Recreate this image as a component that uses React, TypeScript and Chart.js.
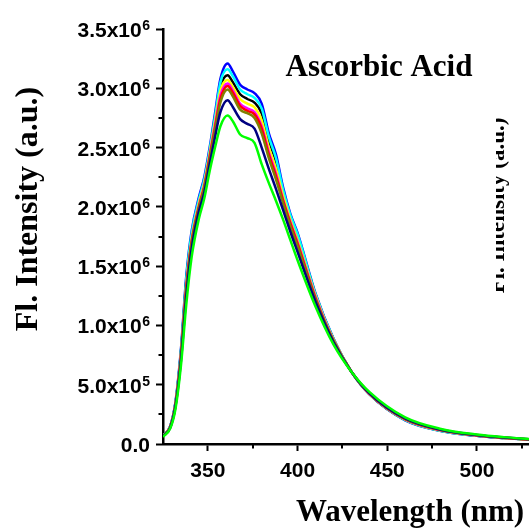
import React, { useEffect, useRef } from "react";
import { Chart, registerables } from "chart.js";

Chart.register(...registerables);

// Wavelength (nm)
const wavelengths = [325, 329, 332, 335, 338, 341, 345, 348, 351, 354, 357, 361, 364, 368, 372, 376, 380, 384, 388, 392, 396, 400, 410, 420, 430, 440, 460, 480, 500, 515, 530];

// Fluorescence intensity, in units of 10^6 a.u.
const blueSeries = [0.07, 0.15, 0.36, 0.8, 1.42, 1.8, 2.08, 2.25, 2.5, 2.79, 3.08, 3.21, 3.14, 3.03, 2.99, 2.96, 2.87, 2.62, 2.44, 2.16, 1.94, 1.78, 1.27, 0.89, 0.61, 0.42, 0.2, 0.11, 0.069, 0.05, 0.035];
const cyanSeries = [0.07, 0.148, 0.353, 0.785, 1.4, 1.78, 2.06, 2.23, 2.48, 2.76, 3.05, 3.16, 3.1, 2.99, 2.95, 2.92, 2.83, 2.59, 2.41, 2.14, 1.93, 1.77, 1.265, 0.887, 0.61, 0.42, 0.202, 0.11, 0.07, 0.05, 0.035];
const blackSeries = [0.069, 0.146, 0.35, 0.775, 1.38, 1.76, 2.04, 2.21, 2.46, 2.73, 3.01, 3.11, 3.05, 2.95, 2.91, 2.88, 2.79, 2.56, 2.38, 2.11, 1.91, 1.75, 1.26, 0.885, 0.61, 0.42, 0.203, 0.111, 0.07, 0.05, 0.035];
const yellowSeries = [0.068, 0.144, 0.34, 0.755, 1.34, 1.73, 2.03, 2.2, 2.45, 2.72, 2.98, 3.07, 3.01, 2.91, 2.87, 2.84, 2.73, 2.5, 2.32, 2.09, 1.89, 1.72, 1.25, 0.88, 0.61, 0.423, 0.206, 0.113, 0.071, 0.051, 0.036];
const magentaSeries = [0.067, 0.142, 0.337, 0.745, 1.33, 1.71, 2.01, 2.18, 2.43, 2.69, 2.94, 3.04, 2.98, 2.87, 2.83, 2.8, 2.68, 2.46, 2.28, 2.06, 1.87, 1.7, 1.24, 0.875, 0.61, 0.424, 0.208, 0.115, 0.072, 0.052, 0.037];
const redSeries = [0.067, 0.141, 0.334, 0.74, 1.32, 1.71, 2.0, 2.17, 2.42, 2.67, 2.91, 3.02, 2.96, 2.85, 2.81, 2.78, 2.66, 2.44, 2.26, 2.05, 1.86, 1.69, 1.23, 0.87, 0.61, 0.425, 0.21, 0.117, 0.073, 0.053, 0.038];
const oliveSeries = [0.066, 0.14, 0.33, 0.73, 1.3, 1.69, 1.99, 2.16, 2.4, 2.65, 2.88, 2.99, 2.93, 2.82, 2.79, 2.75, 2.62, 2.41, 2.23, 2.03, 1.84, 1.67, 1.22, 0.87, 0.61, 0.43, 0.212, 0.118, 0.074, 0.054, 0.038];
const navySeries = [0.065, 0.136, 0.32, 0.7, 1.25, 1.65, 1.96, 2.12, 2.36, 2.59, 2.8, 2.9, 2.84, 2.74, 2.7, 2.66, 2.5, 2.32, 2.15, 1.97, 1.79, 1.62, 1.2, 0.86, 0.61, 0.43, 0.215, 0.12, 0.076, 0.055, 0.04];
const greenSeries = [0.06, 0.13, 0.3, 0.66, 1.18, 1.58, 1.9, 2.07, 2.3, 2.5, 2.68, 2.77, 2.72, 2.61, 2.58, 2.54, 2.36, 2.2, 2.05, 1.89, 1.72, 1.55, 1.16, 0.84, 0.61, 0.44, 0.225, 0.127, 0.08, 0.058, 0.042];

// drawn top-most first
const seriesValues = [greenSeries, navySeries, oliveSeries, redSeries, magentaSeries, yellowSeries, cyanSeries, blackSeries, blueSeries];
const seriesColors = ["#00ff00", "#000080", "#808000", "#ff0000", "#ff00ff", "#ffff00", "#00ffff", "#000000", "#0000ff"];

const xTickValues = [350, 400, 450, 500];
const xTickLabels = ["350", "400", "450", "500"];
const xMinorTicks = [375, 425, 475, 525];
const yTickValues = [0, 0.5, 1.0, 1.5, 2.0, 2.5, 3.0, 3.5];
const yTickMantissa = ["0.0", "5.0x10", "1.0x10", "1.5x10", "2.0x10", "2.5x10", "3.0x10", "3.5x10"];
const yTickExponent = ["", "5", "6", "6", "6", "6", "6", "6"];
const yMinorTicks = [0.25, 0.75, 1.25, 1.75, 2.25, 2.75, 3.25];

const chartTitle = "Ascorbic Acid";
const xTitle = "Wavelength (nm)";
const yTitle = "Fl. Intensity (a.u.)";

const SANS = '"Liberation Sans", Arial, sans-serif';
const SERIF = '"Liberation Serif", "Times New Roman", serif';

const overlayPlugin = {
  id: "overlay",
  afterDraw(chart: any) {
    const ctx = chart.ctx as CanvasRenderingContext2D;
    const xs = chart.scales.x;
    const ys = chart.scales.y;
    const area = chart.chartArea;
    ctx.save();
    ctx.fillStyle = "#000";
    ctx.strokeStyle = "#000";
    ctx.lineWidth = 2;
    // minor ticks
    ctx.beginPath();
    xMinorTicks.forEach((v) => {
      const px = Math.round(xs.getPixelForValue(v));
      if (px <= area.right) {
        ctx.moveTo(px, area.bottom);
        ctx.lineTo(px, area.bottom + 4.5);
      }
    });
    yMinorTicks.forEach((v) => {
      const py = Math.round(ys.getPixelForValue(v));
      ctx.moveTo(area.left, py);
      ctx.lineTo(area.left - 4.5, py);
    });
    ctx.stroke();

    // x tick labels
    ctx.font = `bold 21px ${SANS}`;
    ctx.textAlign = "center";
    ctx.textBaseline = "alphabetic";
    xTickValues.forEach((v, i) => {
      ctx.fillText(xTickLabels[i], xs.getPixelForValue(v), 477);
    });

    // y tick labels with superscripts
    const rightEdge = 150;
    yTickValues.forEach((v, i) => {
      const py = ys.getPixelForValue(v);
      const exp = yTickExponent[i];
      ctx.textAlign = "right";
      ctx.textBaseline = "alphabetic";
      let mRight = rightEdge;
      if (exp) {
        ctx.font = `bold 14px ${SANS}`;
        const w = ctx.measureText(exp).width;
        ctx.fillText(exp, rightEdge, py + 1);
        mRight = rightEdge - w - 0.5;
      }
      ctx.font = `bold 21px ${SANS}`;
      ctx.fillText(yTickMantissa[i], mRight, py + 8);
    });

    // titles
    ctx.textAlign = "center";
    ctx.textBaseline = "alphabetic";
    ctx.font = `bold 31px ${SERIF}`;
    ctx.fillText(chartTitle, 379, 76);
    ctx.fillText(xTitle, 410, 521);

    ctx.save();
    ctx.font = `bold 32px ${SERIF}`;
    ctx.translate(37, 209);
    ctx.rotate(-Math.PI / 2);
    ctx.fillText(yTitle, 0, 0);
    ctx.restore();

    // partially hidden label of the neighbouring panel
    ctx.save();
    ctx.beginPath();
    ctx.rect(496, 0, 40, 531);
    ctx.clip();
    ctx.font = `bold 23px ${SERIF}`;
    ctx.translate(504, 205.5);
    ctx.rotate(-Math.PI / 2);
    ctx.fillText(yTitle, 0, 0);
    ctx.restore();

    ctx.restore();
  },
};

export default function App() {
  const ref = useRef<HTMLCanvasElement | null>(null);

  useEffect(() => {
    if (!ref.current) return;
    const chart = new Chart(ref.current, {
      type: "line",
      data: {
        datasets: seriesValues.map((vals, i) => ({
          data: wavelengths.map((w, j) => ({ x: w, y: vals[j] })),
          borderColor: seriesColors[i],
          backgroundColor: seriesColors[i],
          borderWidth: 2.5,
          pointRadius: 0,
          fill: false,
          cubicInterpolationMode: "monotone" as const,
        })),
      },
      options: {
        animation: false,
        responsive: false,
        devicePixelRatio: 1,
        layout: { padding: { top: 29, left: 0, right: 0, bottom: 0 } },
        plugins: { legend: { display: false }, tooltip: { enabled: false }, title: { display: false } },
        scales: {
          x: {
            type: "linear",
            min: 325,
            max: 529,
            afterBuildTicks: (s: any) => {
              s.ticks = xTickValues.map((v) => ({ value: v }));
            },
            afterFit: (s: any) => {
              s.height = 87;
            },
            ticks: { display: false },
            grid: { display: true, drawOnChartArea: false, drawTicks: true, tickLength: 7, tickWidth: 2, tickColor: "#000" },
            border: { display: true, color: "#000", width: 2.5 },
          },
          y: {
            type: "linear",
            min: 0,
            max: 3.5,
            afterBuildTicks: (s: any) => {
              s.ticks = yTickValues.map((v) => ({ value: v }));
            },
            afterFit: (s: any) => {
              s.width = 163;
            },
            ticks: { display: false },
            grid: { display: true, drawOnChartArea: false, drawTicks: true, tickLength: 7, tickWidth: 2, tickColor: "#000" },
            border: { display: true, color: "#000", width: 2.5 },
          },
        },
      },
      plugins: [overlayPlugin],
    });
    return () => chart.destroy();
  }, []);

  return (
    <div style={{ position: "fixed", left: 0, top: 0, width: 529, height: 531, background: "#fff" }}>
      <canvas ref={ref} width={529} height={531} style={{ display: "block" }} />
    </div>
  );
}
